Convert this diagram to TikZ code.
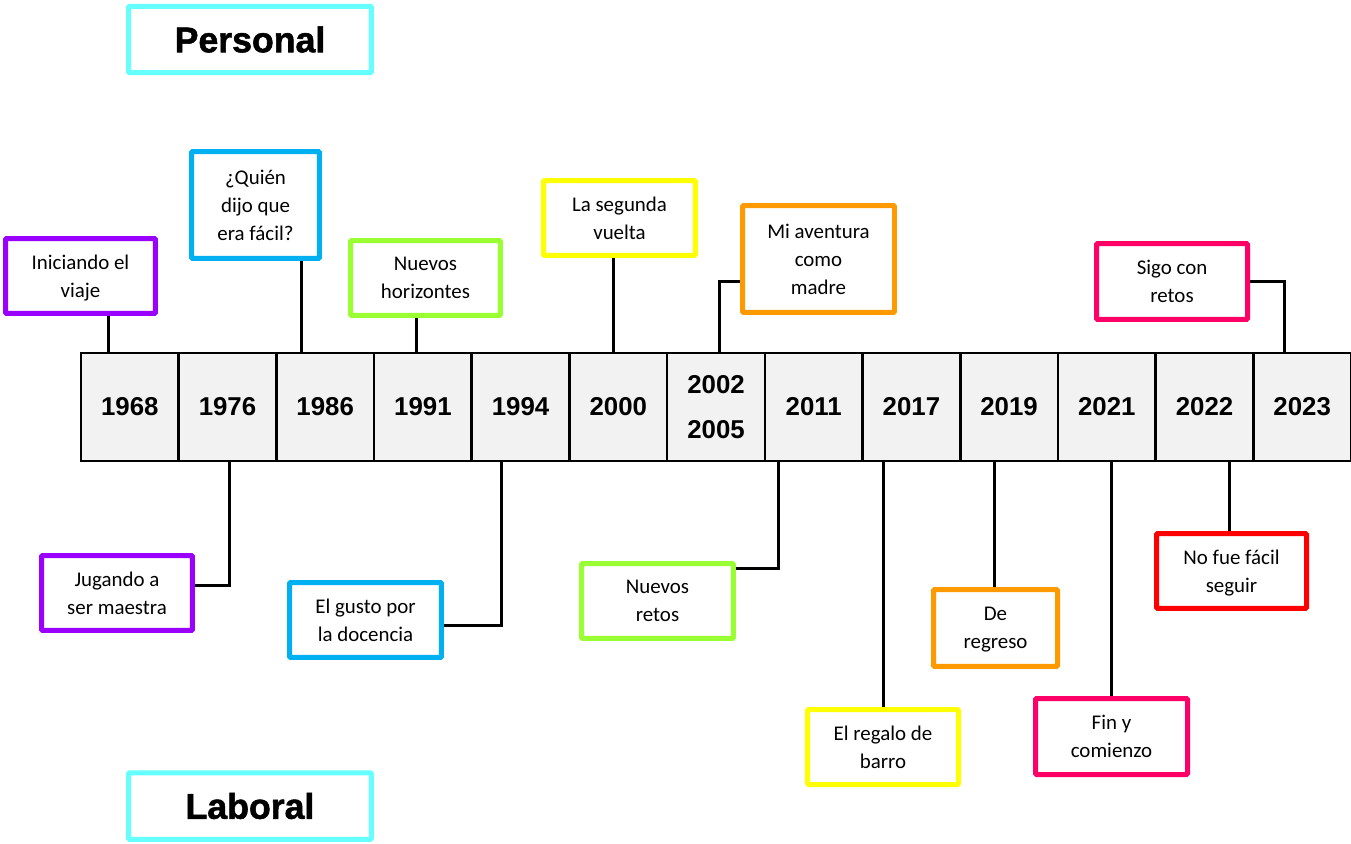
\documentclass[tikz,border=0pt]{standalone}
\usepackage{fontspec}
\setmainfont{Carlito}
\newfontfamily\yearfont{Liberation Sans}
\newfontfamily\headfont{Liberation Sans}[BoldFeatures={FakeBold=1.5}]

\definecolor{cellgray}{HTML}{F2F2F2}
\definecolor{headcyan}{HTML}{66FFFF}
\definecolor{evpurple}{HTML}{9900FF}
\definecolor{evblue}{HTML}{00B0F0}
\definecolor{evgreen}{HTML}{99FF33}
\definecolor{evyellow}{HTML}{FFFF00}
\definecolor{evorange}{HTML}{FF9900}
\definecolor{evpink}{HTML}{FF0066}
\definecolor{evred}{HTML}{FF0000}

\tikzset{
  event/.style={draw, line width=0.1cm, rounded corners=0.6pt, fill=white,
    inner sep=0pt, minimum width=3.04cm, minimum height=1.5cm, align=center,
    font=\fontsize{11.9}{15.9}\selectfont, text depth=-3pt},
  yearcell/.style={draw=black, line width=0.05cm, fill=cellgray, inner sep=0pt,
    minimum width=1.954cm, minimum height=2.16cm, align=center,
    font=\yearfont\bfseries\fontsize{14.7}{26}\selectfont},
  heading/.style={draw=headcyan, line width=0.1cm, rounded corners=0.6pt,
    inner sep=0pt, minimum width=4.86cm, minimum height=1.33cm,
    font=\headfont\bfseries\fontsize{20.3}{24}\selectfont},
  link/.style={black, line width=0.06cm}
}

\begin{document}
\begin{tikzpicture}[x=0.02cm,y=-0.02cm]
\useasboundingbox (0,0) rectangle (1351,844);

% time line:
\node[yearcell] (c1968) at (129.8,407) {1968};
\node[yearcell] (c1976) at (227.5,407) {1976};
\node[yearcell] (c1986) at (325.2,407) {1986};
\node[yearcell] (c1991) at (422.9,407) {1991};
\node[yearcell] (c1994) at (520.6,407) {1994};
\node[yearcell] (c2000) at (618.3,407) {2000};
\node[yearcell] (c2002) at (716.0,407) {2002\\2005};
\node[yearcell] (c2011) at (813.7,407) {2011};
\node[yearcell] (c2017) at (911.4,407) {2017};
\node[yearcell] (c2019) at (1009.1,407) {2019};
\node[yearcell] (c2021) at (1106.8,407) {2021};
\node[yearcell] (c2022) at (1204.5,407) {2022};
\node[yearcell] (c2023) at (1302.2,407) {2023};

% headings:
\node[heading] (personal) at (250,39.5) {Personal};
\node[heading] (laboral) at (250,806) {Laboral};

% personal events (above):
\node[event, draw=evpurple, minimum width=3cm] (viaje) at (80.5,276) {Iniciando el\\viaje};
\node[event, draw=evblue, minimum width=2.56cm, minimum height=2.14cm] (facil) at (255.5,205) {¿Quién\\dijo que\\era fácil?};
\node[event, draw=evgreen, minimum width=3cm] (horiz) at (425.5,278) {Nuevos\\horizontes};
\node[event, draw=evyellow] (vuelta) at (619.5,218) {La segunda\\vuelta};
\node[event, draw=evorange, minimum height=2.14cm] (madre) at (818.5,259) {Mi aventura\\como\\madre};
\node[event, draw=evpink, minimum width=3.02cm, minimum height=1.52cm] (sigo) at (1172,281.5) {Sigo con\\retos};

% work events (below):
\node[event, draw=evpurple, minimum width=3.02cm] (maestra) at (117,593) {Jugando a\\ser maestra};
\node[event, draw=evblue] (docencia) at (365.5,620) {El gusto por\\la docencia};
\node[event, draw=evgreen] (retos) at (657.5,601) {Nuevos\\retos};
\node[event, draw=evyellow, minimum width=3.02cm] (barro) at (883,747) {El regalo de\\barro};
\node[event, draw=evorange, minimum width=2.48cm, minimum height=1.54cm] (regreso) at (995.5,628) {De\\regreso};
\node[event, draw=evpink, minimum height=1.52cm] (comienzo) at (1111.5,736.5) {Fin y\\comienzo};
\node[event, draw=evred, minimum width=3cm] (seguir) at (1231.5,571) {No fue fácil\\seguir};

% connectors:
\draw[link] (viaje.south -| 108,0) -- (c1968.north -| 108,0);
\draw[link] (facil.south -| 301,0) -- (c1986.north -| 301,0);
\draw[link] (horiz.south -| 416,0) -- (c1991.north -| 416,0);
\draw[link] (vuelta.south -| 613,0) -- (c2000.north -| 613,0);
\draw[link] (madre.west |- 0,282) -| (c2002.north -| 719,0);
\draw[link] (sigo.east) -| (c2023.north -| 1284,0);
\draw[link] (maestra.east |- 0,585) -| (c1976.south -| 229,0);
\draw[link] (docencia.east |- 0,625) -| (c1994.south -| 501,0);
\draw[link] (retos.east |- 0,568) -| (c2011.south -| 778,0);
\draw[link] (barro.north) -- (c2017.south -| barro.north);
\draw[link] (regreso.north -| 994,0) -- (c2019.south -| 994,0);
\draw[link] (comienzo.north -| 1111,0) -- (c2021.south -| 1111,0);
\draw[link] (seguir.north -| 1229,0) -- (c2022.south -| 1229,0);

\end{tikzpicture}
\end{document}
